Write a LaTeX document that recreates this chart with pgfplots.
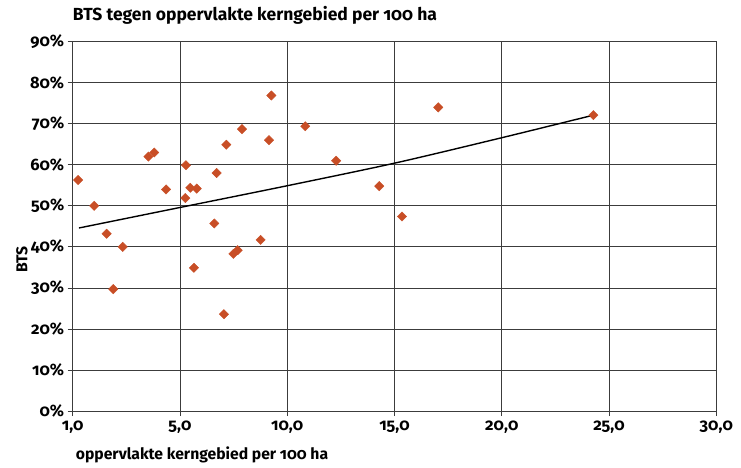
\documentclass[border=0pt]{standalone}
\usepackage{pgfplots}
\pgfplotsset{compat=1.18}
\usepackage{fontspec}
\setmainfont{Fira Sans}[RawFeature=+onum]
\definecolor{mk}{RGB}{200,78,38}
\definecolor{gr}{RGB}{60,60,60}
\begin{document}
\begin{tikzpicture}[x=1pt,y=1pt]
\useasboundingbox (0,0) rectangle (741,467);
\begin{axis}[
  at={(72.7pt,56pt)}, anchor=origin,
  scale only axis, width=643.6pt, height=369.3pt,
  xmin=0, xmax=30, ymin=0, ymax=90,
  xtick={0,5,10,15,20,25,30},
  xticklabels={{1,0},{5,0},{10,0},{15,0},{20,0},{25,0},{30,0}},
  ytick={0,10,20,30,40,50,60,70,80,90},
  yticklabels={0\%,10\%,20\%,30\%,40\%,50\%,60\%,70\%,80\%,90\%},
  grid=major,
  major grid style={gr, line width=0.8pt},
  axis line style={gr, line width=0.8pt},
  tick style={gr, line width=0.8pt},
  tick align=outside, tick pos=left, major tick length=5pt,
  ticklabel style={font=\fontsize{16.5}{18}\selectfont\bfseries},
  xticklabel style={yshift=-1pt},
  title={BTS tegen oppervlakte kerngebied per 100 ha},
  title style={font=\fontsize{17.5}{20}\selectfont\bfseries, at={(rel axis cs:0,1)}, anchor=base west, yshift=15.7pt, inner sep=0pt},
  xlabel={oppervlakte kerngebied per 100 ha},
  xlabel style={font=\fontsize{15.7}{18}\selectfont\bfseries, at={(rel axis cs:0,0)}, anchor=base west, yshift=-48pt, xshift=3pt, inner sep=0pt},
  ylabel={BTS},
  ylabel style={font=\fontsize{15.7}{18}\selectfont\bfseries, at={(rel axis cs:0,0.41)}, anchor=center, yshift=50.7pt, inner sep=0pt},
]
\addplot[black, line width=1.4pt, smooth] coordinates {
(0.29,44.6) (5,49.6) (10,54.9) (15,60.4) (20,66.6) (24.27,72.1)};
\addplot[only marks, mark=square*, mark size=3.3pt, mark options={rotate=45, fill=mk, draw=mk}] coordinates {
(0.25,56.3) (1.0,50.0) (1.58,43.2) (2.33,40.0) (1.89,29.7)
(3.53,62.0) (3.80,63.0) (4.35,54.0) (5.28,59.9) (5.25,51.9)
(5.48,54.4) (5.78,54.2) (6.71,58.0) (7.16,64.9) (7.89,68.7)
(6.60,45.7) (5.65,34.9) (7.05,23.6) (7.49,38.3) (7.69,39.2)
(8.76,41.7) (9.26,76.9) (9.15,66.0) (10.84,69.4) (12.28,61.0)
(14.29,54.8) (15.35,47.4) (17.04,74.0) (24.27,72.1)};
\end{axis}
\end{tikzpicture}
\end{document}
